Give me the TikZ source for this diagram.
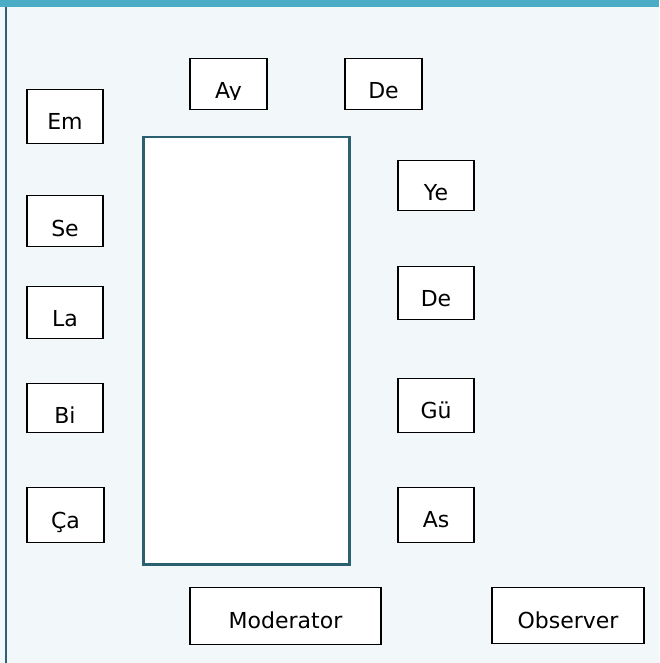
\documentclass[tikz,border=0pt]{standalone}
\usepackage{fontspec}
\setmainfont{DejaVu Sans}
\definecolor{bg}{HTML}{F2F7FA}
\definecolor{topbar}{HTML}{4BACC6}
\definecolor{edge}{HTML}{2A6373}
\definecolor{tableline}{HTML}{2B6070}
\tikzset{
  boxed/.style n args={3}{draw=black, fill=white, line width=1.4pt, inner sep=0pt,
    minimum width=#1, text height=#2, text depth=#3, anchor=south,
    font=\fontsize{22}{26}\selectfont},
  plain/.style n args={3}{inner sep=0pt, minimum width=#1, text height=#2, text depth=#3,
    anchor=south, font=\fontsize{22}{26}\selectfont}
}
\begin{document}
\begin{tikzpicture}[x=1pt,y=-1pt]
\useasboundingbox (0,0) rectangle (659,663);
\fill[bg] (0,0) rectangle (659,663);
\fill[topbar] (0,0) rectangle (659,7.5);
\fill[edge] (5,7.5) rectangle (7.3,663);
% table
\node[draw=tableline, line width=2.5pt, fill=white, inner sep=0pt,
  minimum width=206pt, minimum height=427pt, anchor=north west] (table) at (142,136) {};
% top boxes
\node[boxed={77pt}{51pt}{0pt}] (ay) at (228.5,110) {};
\begin{scope}
\clip (0,0) rectangle (659,100);
\node[plain={77pt}{40pt}{11pt}] (aytext) at (228.5,110) {Ay};
\end{scope}
\node[boxed={77pt}{40pt}{11pt}] (de1) at (383.5,110) {De};
% left column
\node[boxed={76pt}{40pt}{14pt}] (em) at (65,144) {Em};
\node[boxed={76pt}{41pt}{10pt}] (se) at (65,247) {Se};
\node[boxed={76pt}{40pt}{12pt}] (la) at (65,339) {La};
\node[boxed={76pt}{40pt}{9pt}] (bi) at (65,433) {Bi};
\node[boxed={77pt}{41pt}{14pt}] (ca) at (65.5,543) {Ça};
% right column
\node[boxed={76pt}{40pt}{10pt}] (ye) at (436,211) {Ye};
\node[boxed={76pt}{40pt}{13pt}] (de2) at (436,320) {De};
\node[boxed={76pt}{40pt}{14pt}] (gu) at (436,433) {Gü};
\node[boxed={76pt}{40pt}{15pt}] (as) at (436,543) {As};
% bottom
\node[boxed={191pt}{41pt}{16pt}] (mod) at (285.5,645) {Moderator};
\node[boxed={152pt}{41pt}{15pt}] (obs) at (568,644) {Observer};
\end{tikzpicture}
\end{document}
